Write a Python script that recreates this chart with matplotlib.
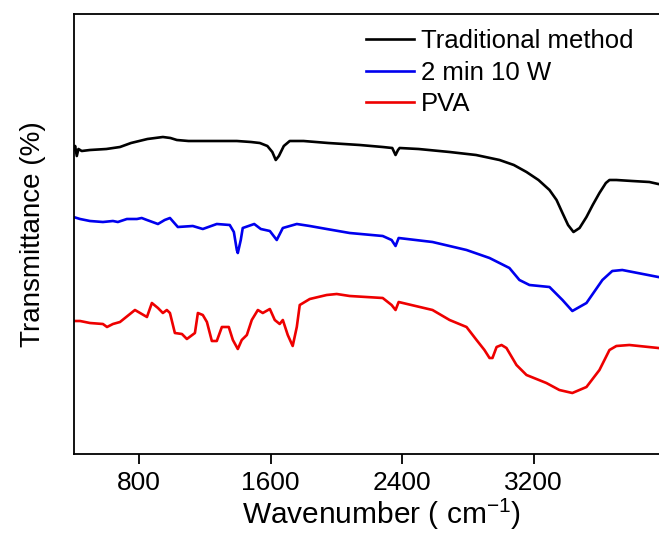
import matplotlib
matplotlib.use("Agg")
import matplotlib.pyplot as plt

plt.rcParams['font.family'] = ['Liberation Sans', 'DejaVu Sans']
plt.rcParams['mathtext.default'] = 'regular'

# Traditional method (black)
wn_trad = [400, 410, 420, 430, 450, 500, 600, 683, 750, 850, 944, 990, 1029, 1100, 1250, 1394,
           1480, 1534, 1580, 1610, 1631, 1650, 1680, 1716, 1800, 1950, 2142, 2282, 2340, 2360,
           2375, 2385, 2500, 2689, 2850, 2993, 3080, 3157, 3230, 3297, 3340, 3376, 3410, 3443,
           3480, 3522, 3560, 3601, 3640, 3662, 3704, 3800, 3905, 3959, 4000]
t_trad = [304, 308, 298, 305, 303, 304, 305, 307, 311, 315, 317, 316, 314, 313, 313, 313,
          312, 311, 308, 302, 294, 298, 308, 313, 313, 311, 309, 307, 306, 299,
          304, 306, 305, 302, 299, 294, 289, 282, 274, 264, 254, 241, 229, 222,
          226, 237, 249, 261, 271, 274, 274, 273, 272, 270, 269]

# 2 min 10 W (blue)
wn_2min = [400, 440, 500, 579, 640, 670, 725, 786, 815, 847, 914, 955, 987, 1035, 1126, 1187,
           1272, 1351, 1376, 1394, 1400, 1418, 1430, 1500, 1540, 1595, 1637, 1674, 1759, 1838,
           1941, 2081, 2282, 2336, 2360, 2379, 2585, 2792, 2932, 3053, 3114, 3175, 3297, 3376,
           3436, 3522, 3619, 3679, 3740, 3959, 4000]
t_2min = [237, 235, 233, 232, 233, 232, 235, 235, 236, 234, 230, 234, 236, 227, 228, 225,
          230, 229, 222, 204, 201, 214, 226, 230, 225, 223, 214, 226, 230, 228,
          225, 221, 218, 214, 208, 216, 212, 204, 196, 186, 174, 169, 167, 154,
          143, 151, 174, 183, 184, 177, 176]

# PVA (red)
wn_pva = [400, 440, 500, 579, 604, 640, 683, 774, 847, 877, 914, 944, 968, 987, 1017, 1060,
          1090, 1139, 1157, 1187, 1212, 1242, 1272, 1303, 1345, 1370, 1400, 1424, 1455, 1485,
          1522, 1552, 1595, 1625, 1655, 1674, 1704, 1734, 1759, 1777, 1838, 1941, 2002, 2081,
          2282, 2336, 2360, 2379, 2585, 2689, 2792, 2853, 2901, 2932, 2950, 2975, 3005, 3035,
          3096, 3157, 3278, 3357, 3436, 3522, 3601, 3662, 3704, 3783, 3959, 4000]
t_pva = [133, 133, 131, 130, 127, 130, 132, 144, 137, 151, 146, 141, 144, 141, 121, 120,
         115, 121, 141, 139, 132, 113, 113, 127, 127, 114, 105, 114, 119, 134,
         144, 141, 145, 134, 130, 134, 119, 108, 127, 149, 155, 159, 160, 158,
         156, 149, 144, 152, 144, 134, 127, 114, 104, 96, 96, 107, 109, 106,
         89, 79, 71, 64, 61, 67, 84, 104, 108, 109, 106, 105]

labels = ["Traditional method", "2 min 10 W", "PVA"]
xticks = [800, 1600, 2400, 3200]

fig = plt.figure(figsize=(6.59, 5.36), dpi=100)
ax = fig.add_axes([73.5 / 659, 1 - 454 / 536, (665 - 73.5) / 659, (454 - 14) / 536])

ax.plot(wn_trad, t_trad, color='black', lw=1.9, label=labels[0])
ax.plot(wn_2min, t_2min, color='#0000ee', lw=1.9, label=labels[1])
ax.plot(wn_pva, t_pva, color='#ee0000', lw=1.9, label=labels[2])

ax.set_xlim(400, 4000)
ax.set_ylim(0, 440)
ax.set_xticks(xticks)
ax.set_xticklabels([str(v) for v in xticks])
ax.set_yticks([])
ax.tick_params(axis='x', direction='out', length=7, width=1.3, labelsize=19, pad=5)
for s in ax.spines.values():
    s.set_linewidth(1.3)

ax.set_xlabel("Wavenumber ( cm$^{-1}$)", fontsize=21.5)
ax.xaxis.set_label_coords(0.52, -0.098)
ax.set_ylabel("Transmittance (%)", fontsize=20, labelpad=20)

fig.legend(loc='upper left', bbox_to_anchor=(366 / 659, 1 - 29 / 536), frameon=False,
           fontsize=18.5, handlelength=1.85, handletextpad=0.3, borderpad=0,
           borderaxespad=0, labelspacing=0.3)

fig.savefig("out.png", dpi=100)
